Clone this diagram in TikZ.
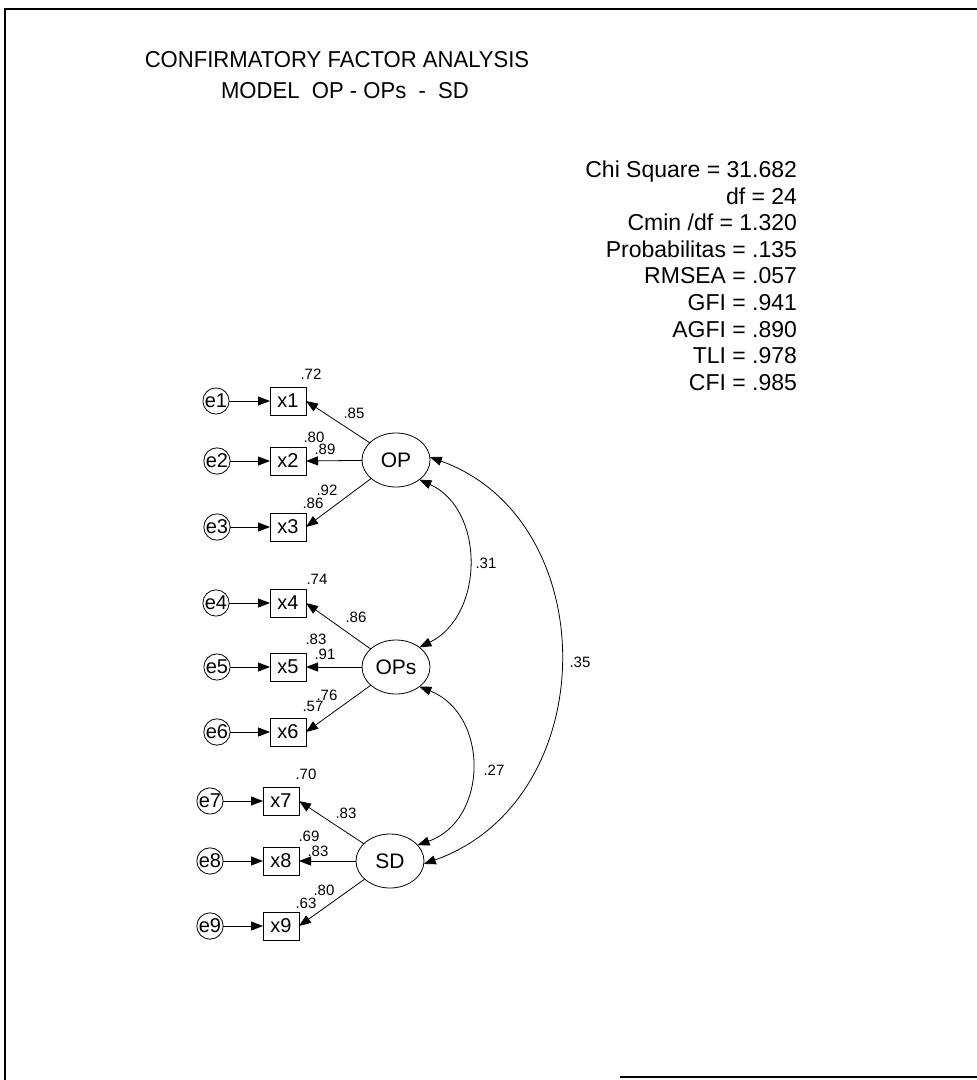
\documentclass[tikz,border=0pt]{standalone}
\usepackage{fontspec}
\setmainfont{Liberation Sans}
\usetikzlibrary{arrows.meta,shapes.geometric}
\begin{document}
\begin{tikzpicture}[x=1pt,y=-1pt,
  every node/.style={inner sep=0pt, outer sep=0pt},
  ln/.style={line width=0.8pt},
  err/.style={circle, draw, ln, minimum size=26pt, font=\fontsize{20}{22}\selectfont},
  ind/.style={rectangle, draw, ln, minimum width=36pt, minimum height=28pt, font=\fontsize{20}{22}\selectfont},
  lat/.style={ellipse, draw, ln, minimum width=68pt, minimum height=54pt, font=\fontsize{21}{24}\selectfont},
  arw/.style={ln, -{Triangle[length=12pt,width=9pt]}},
  darw/.style={ln, {Triangle[length=12pt,width=9pt]}-{Triangle[length=12pt,width=9pt]}},
  lbl/.style={font=\fontsize{15}{17}\selectfont},
  ttl/.style={font=\fontsize{23}{26}\selectfont, xscale=0.96},
  stat/.style={font=\fontsize{23}{26}\selectfont, anchor=base east}
]
\useasboundingbox (0,0) rectangle (977,1080);
% frame
\draw[line width=1.8pt] (5,1080) -- (5,9) -- (977,9);
\draw[line width=1.8pt] (620,1077) -- (977,1077);

% title
\node[ttl] (t1) at (337,60) {CONFIRMATORY FACTOR ANALYSIS};
\node[ttl] (t2) at (345,91) {MODEL\ \ OP - OPs\ \ -\ \ SD};

% statistics
\node[stat] (s1) at (797,177) {Chi Square = 31.682};
\node[stat] (s2) at (797,204) {df = 24};
\node[stat] (s3) at (797,230) {Cmin /df = 1.320};
\node[stat] (s4) at (797,257) {Probabilitas = .135};
\node[stat] (s5) at (797,283) {RMSEA = .057};
\node[stat] (s6) at (797,310) {GFI = .941};
\node[stat] (s7) at (797,337) {AGFI = .890};
\node[stat] (s8) at (797,363) {TLI = .978};
\node[stat] (s9) at (797,390) {CFI = .985};

% latent variables
\node[lat] (OP)  at (396,460) {OP};
\node[lat] (OPs) at (396,667) {OPs};
\node[lat] (SD)  at (390,861) {SD};

% indicators
\node[ind] (x1) at (288,401) {x1};
\node[ind] (x2) at (288,461) {x2};
\node[ind] (x3) at (288,527) {x3};
\node[ind] (x4) at (288,603) {x4};
\node[ind] (x5) at (288,667) {x5};
\node[ind] (x6) at (288,732) {x6};
\node[ind] (x7) at (281,801) {x7};
\node[ind] (x8) at (281,861) {x8};
\node[ind] (x9) at (281,926) {x9};

% errors
\node[err] (e1) at (216,401) {e1};
\node[err] (e2) at (217,461) {e2};
\node[err] (e3) at (217,527) {e3};
\node[err] (e4) at (216,603) {e4};
\node[err] (e5) at (217,667) {e5};
\node[err] (e6) at (217,732) {e6};
\node[err] (e7) at (210,801) {e7};
\node[err] (e8) at (210,861) {e8};
\node[err] (e9) at (210,926) {e9};

% error arrows
\foreach \i in {1,...,9} \draw[arw] (e\i) -- (x\i);

% loadings
\draw[arw] (OP) -- (x1.east);
\draw[arw] (OP) -- (x2.east);
\draw[arw] (OP) -- (x3.east);
\draw[arw] (OPs) -- (x4.east);
\draw[arw] (OPs) -- (x5.east);
\draw[arw] (OPs) -- (x6.east);
\draw[arw] (SD) -- (x7.east);
\draw[arw] (SD) -- (x8.east);
\draw[arw] (SD) -- (x9.east);

% correlations
\draw[darw] (OP.-40) .. controls +(66,30) and +(65,-32) .. (OPs.40);
\draw[darw] (OPs.-40) .. controls +(70,28) and +(71,-25) .. (SD.30);
\draw[darw] (OP.5) .. controls +(175,63) and +(180,-64) .. (SD.-5);

% labels
\node[lbl] (l1)  at (311,374) {.72};
\node[lbl] (l2)  at (354,413) {.85};
\node[lbl] (l3)  at (314,437) {.80};
\node[lbl] (l4)  at (325,449) {.89};
\node[lbl] (l5)  at (327,490) {.92};
\node[lbl] (l6)  at (313,503) {.86};
\node[lbl] (l7)  at (317,579) {.74};
\node[lbl] (l8)  at (356,617) {.86};
\node[lbl] (l9)  at (316,639) {.83};
\node[lbl] (l10) at (325,654) {.91};
\node[lbl] (l11) at (327,695) {.76};
\node[lbl] (l12) at (313,706) {.57};
\node[lbl] (l13) at (306,774) {.70};
\node[lbl] (l14) at (346,813) {.83};
\node[lbl] (l15) at (309,836) {.69};
\node[lbl] (l16) at (318,851) {.83};
\node[lbl] (l17) at (324,890) {.80};
\node[lbl] (l18) at (306,903) {.63};
\node[lbl] (c1) at (486,563) {.31};
\node[lbl] (c2) at (494,770) {.27};
\node[lbl] (c3) at (580,662) {.35};
\end{tikzpicture}
\end{document}
